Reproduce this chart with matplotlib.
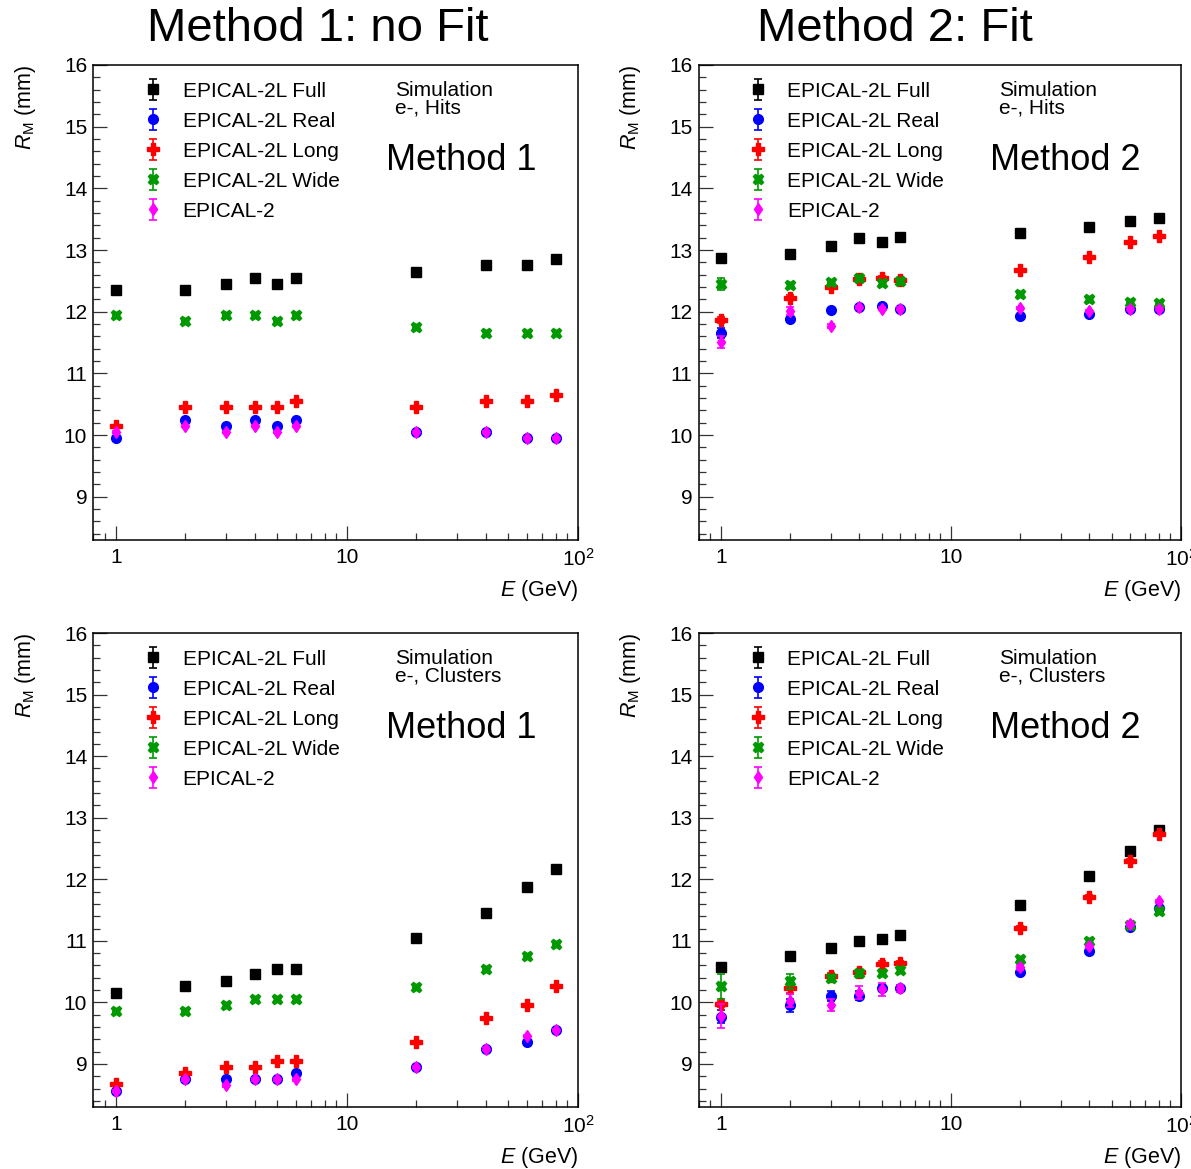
import matplotlib
matplotlib.use("Agg")
import matplotlib.pyplot as plt
from matplotlib.ticker import FixedLocator, FixedFormatter, MultipleLocator, LogLocator, NullFormatter

plt.rcParams['font.family'] = ['Liberation Sans', 'DejaVu Sans']
plt.rcParams['mathtext.fontset'] = 'custom'
plt.rcParams['mathtext.rm'] = 'Liberation Sans'
plt.rcParams['mathtext.it'] = 'Liberation Sans:italic'

# Energías del haz (GeV)
energy = [1, 2, 3, 4, 5, 6, 20, 40, 60, 80]

# Hits, método 1 (sin ajuste)
hits_m1_full = [12.35, 12.35, 12.45, 12.55, 12.45, 12.55, 12.65, 12.75, 12.75, 12.85]
hits_m1_real = [9.95, 10.25, 10.15, 10.25, 10.15, 10.25, 10.05, 10.05, 9.95, 9.95]
hits_m1_long = [10.15, 10.45, 10.45, 10.45, 10.45, 10.55, 10.45, 10.55, 10.55, 10.65]
hits_m1_wide = [11.95, 11.85, 11.95, 11.95, 11.85, 11.95, 11.75, 11.65, 11.65, 11.65]
hits_m1_ep2 = [10.05, 10.15, 10.05, 10.15, 10.05, 10.15, 10.05, 10.05, 9.95, 9.95]

# Hits, método 2 (ajuste)
hits_m2_full = [12.87, 12.94, 13.07, 13.19, 13.13, 13.21, 13.28, 13.38, 13.47, 13.52]
hits_m2_real = [11.65, 11.88, 12.02, 12.08, 12.09, 12.05, 11.93, 11.97, 12.05, 12.05]
hits_m2_long = [11.87, 12.23, 12.40, 12.53, 12.55, 12.52, 12.67, 12.88, 13.13, 13.22]
hits_m2_wide = [12.45, 12.43, 12.49, 12.55, 12.47, 12.50, 12.28, 12.20, 12.16, 12.14]
hits_m2_ep2 = [11.51, 12.01, 11.77, 12.07, 12.05, 12.05, 12.06, 12.01, 12.05, 12.05]

# Clusters, método 1
clus_m1_full = [10.15, 10.26, 10.35, 10.46, 10.55, 10.55, 11.05, 11.45, 11.87, 12.16]
clus_m1_real = [8.56, 8.75, 8.75, 8.75, 8.75, 8.85, 8.95, 9.25, 9.35, 9.55]
clus_m1_long = [8.67, 8.85, 8.95, 8.95, 9.05, 9.05, 9.35, 9.75, 9.95, 10.26]
clus_m1_wide = [9.86, 9.86, 9.95, 10.05, 10.05, 10.05, 10.25, 10.55, 10.75, 10.95]
clus_m1_ep2 = [8.56, 8.75, 8.65, 8.75, 8.75, 8.75, 8.95, 9.25, 9.45, 9.55]

# Clusters, método 2
clus_m2_full = [10.58, 10.75, 10.88, 11.00, 11.03, 11.10, 11.58, 12.06, 12.46, 12.80]
clus_m2_real = [9.77, 9.95, 10.11, 10.11, 10.23, 10.23, 10.50, 10.84, 11.23, 11.54]
clus_m2_long = [9.97, 10.23, 10.43, 10.49, 10.63, 10.64, 11.21, 11.72, 12.30, 12.74]
clus_m2_wide = [10.26, 10.34, 10.39, 10.48, 10.48, 10.52, 10.71, 11.00, 11.25, 11.48]
clus_m2_ep2 = [9.78, 10.03, 9.96, 10.16, 10.21, 10.23, 10.57, 10.91, 11.27, 11.64]

# Errores estimados
err_small = [0.02] * 10
hits_m2_err_full = [0.05, 0.03, 0.03, 0.03, 0.03, 0.03, 0.02, 0.02, 0.02, 0.02]
hits_m2_err_real = [0.08, 0.04, 0.03, 0.03, 0.03, 0.03, 0.02, 0.02, 0.02, 0.02]
hits_m2_err_long = [0.05, 0.04, 0.03, 0.03, 0.03, 0.03, 0.02, 0.02, 0.02, 0.02]
hits_m2_err_wide = [0.10, 0.04, 0.03, 0.03, 0.03, 0.03, 0.02, 0.02, 0.02, 0.02]
hits_m2_err_ep2 = [0.10, 0.06, 0.03, 0.03, 0.03, 0.03, 0.02, 0.02, 0.02, 0.02]
clus_m2_err_full = [0.06, 0.03, 0.03, 0.03, 0.03, 0.03, 0.02, 0.02, 0.02, 0.02]
clus_m2_err_real = [0.10, 0.10, 0.08, 0.07, 0.05, 0.05, 0.03, 0.03, 0.03, 0.03]
clus_m2_err_long = [0.05, 0.08, 0.05, 0.04, 0.04, 0.04, 0.03, 0.03, 0.03, 0.03]
clus_m2_err_wide = [0.20, 0.12, 0.06, 0.05, 0.05, 0.05, 0.03, 0.03, 0.03, 0.03]
clus_m2_err_ep2 = [0.20, 0.10, 0.10, 0.10, 0.10, 0.06, 0.04, 0.03, 0.03, 0.03]

labels = ['EPICAL-2L Full', 'EPICAL-2L Real', 'EPICAL-2L Long', 'EPICAL-2L Wide', 'EPICAL-2']
colors = ['#000000', '#0000ff', '#ff0000', '#009900', '#ff00ff']
markers = ['s', 'o', 'P', 'X', 'd']
msizes = [7, 7, 8, 7.5, 6.5]

panels = [
    dict(pos=[0.0785, 0.5381, 0.4068, 0.4063], method='Method 1', kind='e-, Hits',
         ys=[hits_m1_full, hits_m1_real, hits_m1_long, hits_m1_wide, hits_m1_ep2],
         es=[err_small] * 5),
    dict(pos=[0.5865, 0.5381, 0.4051, 0.4063], method='Method 2', kind='e-, Hits',
         ys=[hits_m2_full, hits_m2_real, hits_m2_long, hits_m2_wide, hits_m2_ep2],
         es=[hits_m2_err_full, hits_m2_err_real, hits_m2_err_long, hits_m2_err_wide, hits_m2_err_ep2]),
    dict(pos=[0.0785, 0.0530, 0.4068, 0.4055], method='Method 1', kind='e-, Clusters',
         ys=[clus_m1_full, clus_m1_real, clus_m1_long, clus_m1_wide, clus_m1_ep2],
         es=[err_small] * 5),
    dict(pos=[0.5865, 0.0530, 0.4051, 0.4055], method='Method 2', kind='e-, Clusters',
         ys=[clus_m2_full, clus_m2_real, clus_m2_long, clus_m2_wide, clus_m2_ep2],
         es=[clus_m2_err_full, clus_m2_err_real, clus_m2_err_long, clus_m2_err_wide, clus_m2_err_ep2]),
]

fig = plt.figure(figsize=(11.91, 11.69), dpi=100)

for p in panels:
    ax = fig.add_axes(p['pos'])
    for k in range(5):
        ax.errorbar(energy, p['ys'][k], yerr=p['es'][k], fmt=markers[k], color=colors[k],
                    ms=msizes[k], mec=colors[k], elinewidth=1.2, capsize=3, capthick=1.2,
                    label=labels[k], zorder=3 + k)
    ax.set_xscale('log')
    ax.set_xlim(0.8, 100)
    ax.set_ylim(8.3, 16)

    ax.xaxis.set_major_locator(FixedLocator([1, 10, 100]))
    ax.xaxis.set_major_formatter(FixedFormatter(['1', '10', '$10^{2}$']))
    ax.xaxis.set_minor_locator(LogLocator(base=10, subs=range(2, 10)))
    ax.xaxis.set_minor_formatter(NullFormatter())
    ax.yaxis.set_major_locator(MultipleLocator(1))
    ax.yaxis.set_minor_locator(MultipleLocator(0.2))

    ax.tick_params(which='both', direction='in', top=False, right=False, width=0.9, color='#333333')
    ax.tick_params(which='major', length=10, labelsize=15)
    ax.tick_params(which='minor', length=5)
    ax.tick_params(axis='x', pad=6)
    ax.tick_params(axis='y', pad=4.5)
    for s in ax.spines.values():
        s.set_linewidth(1.1)

    ax.set_ylabel('$R_{\\mathrm{M}}$ (mm)', loc='top', fontsize=15.5)
    ax.yaxis.set_label_coords(-0.115, 1.0)
    ax.set_xlabel('$E$ (GeV)', loc='right', fontsize=15.5)
    ax.xaxis.set_label_coords(1.0, -0.08)

    ax.legend(loc='upper left', bbox_to_anchor=(0.088, 0.965), frameon=False, fontsize=15,
              numpoints=1, handlelength=1.6, handletextpad=0.63, labelspacing=0.53,
              borderpad=0, borderaxespad=0)

    ax.text(0.622, 0.935, 'Simulation', transform=ax.transAxes, fontsize=15, va='baseline')
    ax.text(0.622, 0.897, p['kind'], transform=ax.transAxes, fontsize=15, va='baseline')
    ax.text(0.604, 0.779, p['method'], transform=ax.transAxes, fontsize=26, va='baseline')

fig.text(0.267, 0.965, 'Method 1: no Fit', fontsize=34, ha='center', va='baseline')
fig.text(0.751, 0.965, 'Method 2: Fit', fontsize=34, ha='center', va='baseline')

fig.savefig('out.png', dpi=100)
